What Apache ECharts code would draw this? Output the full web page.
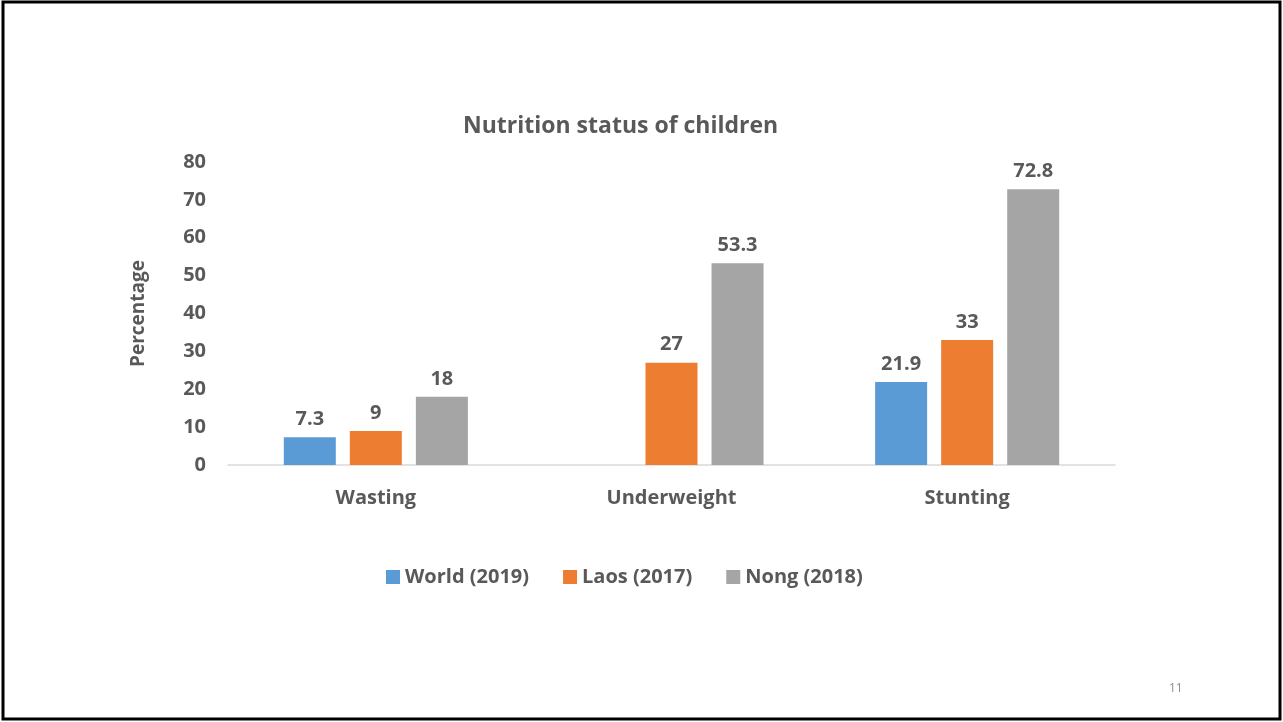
<!DOCTYPE html>
<html>
<head>
<meta charset="utf-8">
<script src="https://cdn.jsdelivr.net/npm/echarts@6/dist/echarts.min.js"></script>
<style>
	html, body { margin: 0; padding: 0; background: #fff; }
	#main { width: 1283px; height: 722px; }
</style>
</head>
<body>
<div id="main"></div>
<script>
	// categories and values
	var categories = ['Wasting', 'Underweight', 'Stunting'];
	var worldData = [7.3, null, 21.9];
	var laosData = [9, 27, 33];
	var nongData = [18, 53.3, 72.8];
	var seriesNames = ['World (2019)', 'Laos (2017)', 'Nong (2018)'];

	var textColor = '#595959';
	var font = 'Open Sans';

	var chart = echarts.init(document.getElementById('main'));

	function barSeries(name, data, color) {
		return {
			name: name,
			type: 'bar',
			data: data,
			barWidth: 52,
			barGap: '27%',
			itemStyle: { color: color },
			label: {
				show: true,
				position: 'top',
				distance: 8,
				color: textColor,
				fontFamily: font,
				fontWeight: 'bold',
				fontSize: 20
			}
		};
	}

	var option = {
		backgroundColor: '#fff',
		animation: false,
		title: {
			text: 'Nutrition status of children',
			left: 458,
			top: 110,
			textStyle: {
				color: textColor,
				fontFamily: font,
				fontWeight: 'bold',
				fontSize: 23
			}
		},
		legend: {
			data: seriesNames,
			left: 381,
			top: 562,
			itemWidth: 14,
			itemHeight: 14,
			itemGap: 34,
			icon: 'rect',
			textStyle: {
				color: textColor,
				fontFamily: font,
				fontWeight: 'bold',
				fontSize: 20
			}
		},
		grid: {
			left: 228,
			right: 168,
			top: 162,
			bottom: 257
		},
		xAxis: {
			type: 'category',
			data: categories,
			axisLine: { lineStyle: { color: '#d9d9d9', width: 1.5 } },
			axisTick: { show: false },
			axisLabel: {
				color: textColor,
				fontFamily: font,
				fontWeight: 'bold',
				fontSize: 20,
				margin: 23
			}
		},
		yAxis: {
			type: 'value',
			min: 0,
			max: 80,
			interval: 10,
			name: 'Percentage',
			nameLocation: 'middle',
			nameGap: 80,
			nameRotate: 90,
			nameTextStyle: {
				color: textColor,
				fontFamily: font,
				fontWeight: 'bold',
				fontSize: 19
			},
			axisLine: { show: false },
			axisTick: { show: false },
			splitLine: { show: false },
			axisLabel: {
				color: textColor,
				fontFamily: font,
				fontWeight: 'bold',
				fontSize: 20,
				margin: 22
			}
		},
		series: [
			barSeries(seriesNames[0], worldData, '#5b9bd5'),
			barSeries(seriesNames[1], laosData, '#ed7d31'),
			barSeries(seriesNames[2], nongData, '#a5a5a5')
		],
		graphic: [
			{
				type: 'rect',
				shape: { x: 3, y: 2, width: 1277, height: 717 },
				style: { fill: 'none', stroke: '#000', lineWidth: 3 }
			},
			{
				type: 'text',
				left: 1169,
				top: 683,
				style: { text: '11', fill: '#8c8c8c', font: '12px "Open Sans"' }
			}
		]
	};
	chart.setOption(option);
</script>
</body>
</html>
